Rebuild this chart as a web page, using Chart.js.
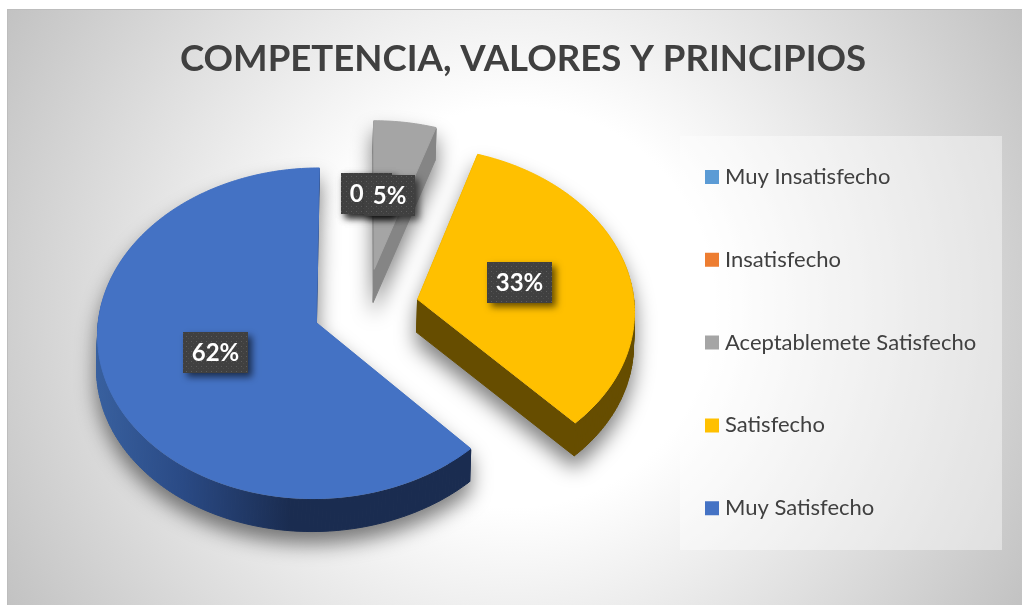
<!DOCTYPE html>
<html>
<head>
<meta charset="utf-8">
<style>html,body{margin:0;padding:0;background:#fff;overflow:hidden}canvas{display:block}</style>
<script src="https://cdn.jsdelivr.net/npm/chart.js@4"></script>
</head>
<body>
<canvas id="c" width="1022" height="605"></canvas>
<script>
const titleText = 'COMPETENCIA, VALORES Y PRINCIPIOS';
const categories = ['Muy Insatisfecho','Insatisfecho','Aceptablemete Satisfecho','Satisfecho','Muy Satisfecho'];
const values = [0,0,5,33,62];
const colors = ['#5B9BD5','#ED7D31','#A5A5A5','#FFC000','#4472C4'];
const sideColors = ['#37618a','#8e4b1d','#858585','#664D00','#1a2c50'];

// view constants for the tilted pie
const Cx = 366, Cy = 308, SY = 0.75, K = 0.0634, DEPTH = 33, DX = -1;
const FONT = 'Lato, Carlito, sans-serif';

function project(px, py, R){
  const s = 1/(1 - K*py/R);
  return [Cx + px*s, Cy + py*SY*s];
}
function slicePoints(arc){
  const R = arc.outerRadius, mid = (arc.startAngle+arc.endAngle)/2, d = (arc.options.offset||0)/4;
  const ox = Math.cos(mid)*d, oy = Math.sin(mid)*d;
  const pts = [project(ox, oy, R)];
  const n = Math.max(2, Math.ceil((arc.endAngle-arc.startAngle)/(Math.PI/180)));
  for(let i=0;i<=n;i++){
    const t = arc.startAngle + (arc.endAngle-arc.startAngle)*i/n;
    pts.push(project(ox+Math.cos(t)*R, oy+Math.sin(t)*R, R));
  }
  return pts;
}
function tracePoly(ctx, pts){
  ctx.beginPath();
  pts.forEach((p,i)=> i ? ctx.lineTo(p[0],p[1]) : ctx.moveTo(p[0],p[1]));
  ctx.closePath();
}
function drawSolid(ctx, pts, side, top){
  ctx.fillStyle = side; ctx.strokeStyle = side; ctx.lineWidth = 1;
  for(let i=0;i<pts.length;i++){
    const a = pts[i], b = pts[(i+1)%pts.length];
    ctx.beginPath();
    ctx.moveTo(a[0],a[1]+1); ctx.lineTo(b[0],b[1]+1);
    ctx.lineTo(b[0]+DX,b[1]+DEPTH); ctx.lineTo(a[0]+DX,a[1]+DEPTH);
    ctx.closePath(); ctx.fill(); ctx.stroke();
  }
  tracePoly(ctx, pts); ctx.fillStyle = top; ctx.fill();
  ctx.strokeStyle = top; ctx.lineWidth = 1; ctx.stroke();
}
function dotPattern(ctx){
  const c = document.createElement('canvas'); c.width = 5; c.height = 5;
  const g = c.getContext('2d');
  g.fillStyle = '#404040'; g.fillRect(0,0,5,5);
  g.fillStyle = '#5c5c5c'; g.fillRect(1,1,1,1);
  g.fillStyle = '#4c4c4c'; g.fillRect(3,3,1,1);
  return ctx.createPattern(c,'repeat');
}

const tiltedPie = {
  id:'tiltedPie',
  beforeDraw(chart){
    const ctx = chart.ctx;
    ctx.save();
    const g = ctx.createRadialGradient(515,307,200,515,307,590);
    g.addColorStop(0,'#ffffff'); g.addColorStop(1,'#c2c2c2');
    ctx.fillStyle = g; ctx.fillRect(8,10,1014,595);
    ctx.fillStyle = '#bdbdbd'; ctx.fillRect(8,9,1014,1); ctx.fillRect(7,9,1,596);
    ctx.fillStyle = 'rgba(255,255,255,0.42)'; ctx.fillRect(680,136,322,414);
    ctx.restore();
  },
  afterLayout(chart){
    const lg = chart.legend, fs = lg.options.labels.font.size, pad = lg.options.labels.padding;
    const w = lg.right - lg.left, h = lg.bottom - lg.top;
    lg.left = 710 - pad; lg.right = lg.left + w;
    lg.top = 177 - fs/2 - pad; lg.bottom = lg.top + Math.max(h, 480);
    const t = chart.titleBlock;
    t.left = 180 - 200; t.right = 866 + 200;
  },
  beforeDatasetsDraw(chart){
    const ctx = chart.ctx, arcs = chart.getDatasetMeta(0).data;
    const shapes = arcs.map((arc,i)=>({arc,i,pts: arc.endAngle-arc.startAngle>0 ? slicePoints(arc) : null}));
    // soft shadow: a blurred copy of the whole silhouette
    const off = document.createElement('canvas'); off.width = chart.width; off.height = chart.height;
    const oc = off.getContext('2d');
    shapes.forEach(s=>{ if(s.pts) drawSolid(oc, s.pts, '#000', '#000'); });
    ctx.save();
    ctx.filter = 'blur(10px)'; ctx.globalAlpha = 0.5;
    ctx.drawImage(off,0,12);
    ctx.restore();
    // solids
    ctx.save();
    shapes.forEach(s=>{
      if(!s.pts) return;
      let side = sideColors[s.i];
      if(s.i===4){
        const lg = ctx.createLinearGradient(95,0,290,0);
        lg.addColorStop(0,'#38609f'); lg.addColorStop(0.45,'#2a4a85'); lg.addColorStop(1,'#1a2c50');
        side = lg;
      }
      drawSolid(ctx, s.pts, side, colors[s.i]);
    });
    // data labels
    const pat = dotPattern(ctx);
    const total = values.reduce((a,b)=>a+b,0);
    ctx.font = 'bold 24px '+FONT; ctx.textAlign = 'center'; ctx.textBaseline = 'middle';
    arcs.forEach((arc,i)=>{
      const R = arc.outerRadius, mid = (arc.startAngle+arc.endAngle)/2, d = (arc.options.offset||0)/4;
      const r = d + R*0.49;
      const p = project(Math.cos(mid)*r, Math.sin(mid)*r, R);
      const txt = Math.round(values[i]/total*100)+'%';
      const w = Math.round(ctx.measureText(txt).width + 17), h = 41;
      const x = Math.round(p[0]-w/2), y = Math.round(p[1]-h/2);
      ctx.save();
      ctx.shadowColor = 'rgba(0,0,0,0.6)'; ctx.shadowBlur = 7; ctx.shadowOffsetX = 4; ctx.shadowOffsetY = 4;
      ctx.fillStyle = '#404040'; ctx.fillRect(x,y,w,h);
      ctx.restore();
      ctx.fillStyle = pat; ctx.fillRect(x,y,w,h);
      ctx.fillStyle = '#fff';
      ctx.fillText(txt, x+w/2, y+h/2+1);
    });
    ctx.restore();
    return false;
  }
};

new Chart(document.getElementById('c'), {
  type:'pie',
  data:{labels:categories, datasets:[{data:values, backgroundColor:colors, borderWidth:0, offset:212, radius:217}]},
  plugins:[tiltedPie],
  options:{
    responsive:false, animation:false,
    plugins:{
      tooltip:{enabled:false},
      title:{display:true, text:titleText, color:'#404040', align:'center',
        font:{family:FONT, size:36.6, weight:'bold'}, padding:{top:37,bottom:10}},
      legend:{position:'right', align:'start',
        labels:{usePointStyle:true, pointStyle:'rect', boxWidth:4, boxHeight:14, padding:60.8, color:'#404040',
          font:{family:FONT, size:22}}}
    }
  }
});
</script>
</body>
</html>
